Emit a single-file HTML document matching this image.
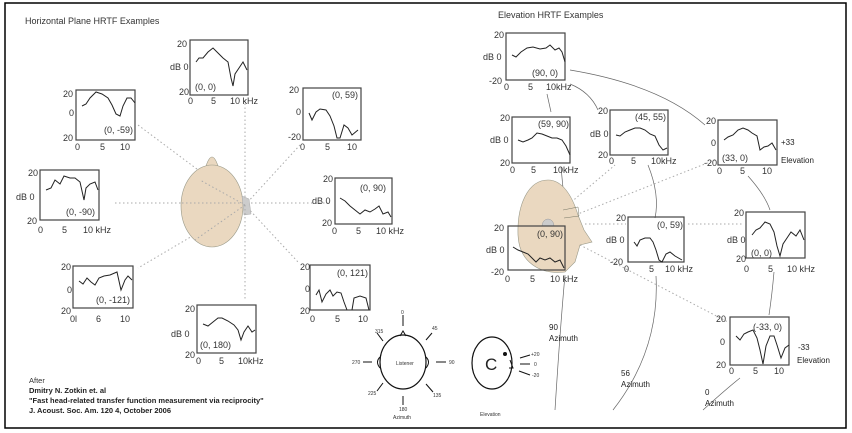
<!DOCTYPE html>
<html><head><meta charset="utf-8"><style>
html,body{margin:0;padding:0;background:#fff;}
svg{display:block;font-family:"Liberation Sans",sans-serif;}
.t{font-size:9px;fill:#333;}
.s{font-size:5px;fill:#333;}
.b{fill:none;stroke:#444;stroke-width:1.2;}
.c{fill:none;stroke:#222;stroke-width:1;}
.d{fill:none;stroke:#aaa;stroke-width:1;stroke-dasharray:1.5 2.5;}
.l{fill:none;stroke:#666;stroke-width:0.7;}
</style></head><body>
<svg width="852" height="433" viewBox="0 0 852 433">
<rect x="5" y="3" width="841" height="425" fill="#fff" stroke="#000" stroke-width="1.5"/>
<text x="25" y="24" class="t">Horizontal Plane  HRTF Examples</text>
<text x="498" y="18" class="t">Elevation HRTF Examples</text>

<g class="d">
<line x1="245" y1="205" x2="245" y2="100"/>
<line x1="245" y1="205" x2="138" y2="125"/>
<line x1="245" y1="205" x2="300" y2="145"/>
<line x1="115" y1="203" x2="330" y2="203"/>
<line x1="245" y1="205" x2="138" y2="268"/>
<line x1="245" y1="205" x2="245" y2="300"/>
<line x1="245" y1="205" x2="298" y2="262"/>
</g>
<path d="M206,166 Q212,148 218,166 Z" fill="#ead8c0" stroke="#998" stroke-width="0.6"/>
<ellipse cx="212" cy="206" rx="31" ry="41" fill="#ead8c0" stroke="#998" stroke-width="0.6"/>
<path d="M242,196 L249,199 L251,214 L244,215 Z" fill="#ccc" stroke="#aaa" stroke-width="0.5"/>
<g class="d"><line x1="182" y1="203" x2="243" y2="203"/><line x1="245" y1="205" x2="200" y2="180"/><line x1="245" y1="205" x2="195" y2="240"/><line x1="245" y1="205" x2="245" y2="247"/></g>

<rect x="190" y="40" width="58" height="55" class="b"/>
<polyline class="c" points="196,62 199,58 203,58 208,52 213,48 218,53 223,58 228,62 231,78 233,86 235,74 239,68 243,62 247,70"/>
<text x="177" y="47" class="t">20</text><text x="170" y="70" class="t">dB 0</text><text x="179" y="95" class="t">20</text>
<text x="195" y="90" class="t">(0, 0)</text>
<text x="188" y="104" class="t">0</text><text x="211" y="104" class="t">5</text><text x="230" y="104" class="t">10 kHz</text>
<rect x="76" y="90" width="59" height="50" class="b"/>
<polyline class="c" points="82,106 86,104 90,98 96,92 102,94 108,98 112,105 116,114 120,116 123,106 127,98 131,98 135,103"/>
<text x="63" y="97" class="t">20</text><text x="69" y="116" class="t">0</text><text x="63" y="141" class="t">20</text>
<text x="104" y="133" class="t">(0, -59)</text>
<text x="75" y="150" class="t">0</text><text x="100" y="150" class="t">5</text><text x="120" y="150" class="t">10</text>
<rect x="303" y="88" width="58" height="52" class="b"/>
<polyline class="c" points="309,113 312,120 316,112 320,109 326,110 330,116 334,126 337,138 340,138 344,125 348,128 352,135 358,130"/>
<text x="289" y="93" class="t">20</text><text x="296" y="115" class="t">0</text><text x="288" y="140" class="t">-20</text>
<text x="332" y="98" class="t">(0, 59)</text>
<text x="300" y="150" class="t">0</text><text x="325" y="150" class="t">5</text><text x="347" y="150" class="t">10</text>
<rect x="40" y="170" width="59" height="50" class="b"/>
<polyline class="c" points="46,190 51,188 55,180 60,184 64,176 70,178 75,178 80,182 84,200 86,188 90,184 95,182 98,190"/>
<text x="28" y="176" class="t">20</text><text x="16" y="200" class="t">dB 0</text><text x="27" y="224" class="t">20</text>
<text x="66" y="215" class="t">(0, -90)</text>
<text x="38" y="233" class="t">0</text><text x="62" y="233" class="t">5</text><text x="83" y="233" class="t">10 kHz</text>
<rect x="335" y="178" width="57" height="46" class="b"/>
<polyline class="c" points="340,198 345,201 350,206 355,210 360,214 365,210 370,212 375,209 379,206 383,214 388,212 391,217"/>
<text x="323" y="182" class="t">20</text><text x="312" y="204" class="t">dB 0</text><text x="322" y="226" class="t">20</text>
<text x="360" y="191" class="t">(0, 90)</text>
<text x="332" y="234" class="t">0</text><text x="356" y="234" class="t">5</text><text x="376" y="234" class="t">10 kHz</text>
<rect x="73" y="266" width="60" height="42" class="b"/>
<polyline class="c" points="79,281 83,284 87,278 91,282 95,285 99,278 104,276 110,275 117,272 121,290 125,280 128,276 132,280"/>
<text x="61" y="270" class="t">20</text><text x="67" y="293" class="t">0</text><text x="61" y="314" class="t">20</text>
<text x="96" y="303" class="t">(0, -121)</text>
<text x="70" y="322" class="t">0l</text><text x="96" y="322" class="t">6</text><text x="120" y="322" class="t">10</text>
<rect x="197" y="305" width="59" height="48" class="b"/>
<polyline class="c" points="203,324 208,326 213,322 218,318 222,318 228,321 234,325 238,330 241,340 244,332 248,326 252,332 255,330"/>
<text x="185" y="312" class="t">20</text><text x="171" y="337" class="t">dB 0</text><text x="185" y="358" class="t">20</text>
<text x="200" y="348" class="t">(0, 180)</text>
<text x="196" y="364" class="t">0</text><text x="219" y="364" class="t">5</text><text x="238" y="364" class="t">10kHz</text>
<rect x="310" y="265" width="60" height="45" class="b"/>
<polyline class="c" points="316,295 319,290 322,302 326,294 330,290 333,296 337,292 341,293 344,302 347,310"/>
<polyline class="c" points="352,310 354,298 360,296 366,298 369,310"/>
<text x="300" y="270" class="t">20</text><text x="305" y="292" class="t">0</text><text x="300" y="314" class="t">20</text>
<text x="337" y="276" class="t">(0, 121)</text>
<text x="310" y="322" class="t">0</text><text x="335" y="322" class="t">5</text><text x="358" y="322" class="t">10</text>

<text x="29" y="383" style="font-size:7.5px;fill:#333">After</text>
<g style="font-size:7.5px;font-weight:bold;fill:#222">
<text x="29" y="393">Dmitry N. Zotkin et. al</text>
<text x="29" y="403">"Fast head-related transfer function measurement via reciprocity"</text>
<text x="29" y="413">J. Acoust. Soc. Am. 120 4, October 2006</text>
</g>

<g stroke="#111" stroke-width="1" fill="none">
<ellipse cx="403" cy="362" rx="23" ry="27" stroke-width="1.2"/>
<path d="M400,336 L403,331 L406,336"/>
<path d="M380,357 Q375,362 380,368"/><path d="M426,357 Q431,362 426,368"/>
<line x1="403" y1="315" x2="403" y2="326"/>
<line x1="403" y1="396" x2="403" y2="405"/>
<line x1="363" y1="362" x2="372" y2="362"/>
<line x1="436" y1="362" x2="446" y2="362"/>
<line x1="377" y1="333" x2="383" y2="341"/>
<line x1="426" y1="340" x2="432" y2="333"/>
<line x1="377" y1="391" x2="383" y2="383"/>
<line x1="426" y1="384" x2="433" y2="392"/>
<ellipse cx="492" cy="363" rx="20" ry="26" stroke-width="1.2"/>
<path d="M510,360 L513,368 L509,368"/>
<line x1="520" y1="358" x2="530" y2="355"/>
<line x1="520" y1="364" x2="530" y2="364"/>
<line x1="519" y1="371" x2="530" y2="375"/>
</g>
<circle cx="505" cy="354" r="2" fill="#111"/>
<text x="485" y="370" style="font-size:17px;fill:#222">C</text>
<text x="396" y="365" class="s">Listener</text>
<text x="401" y="314" class="s">0</text><text x="375" y="333" class="s">315</text><text x="432" y="330" class="s">45</text>
<text x="352" y="364" class="s">270</text><text x="449" y="364" class="s">90</text>
<text x="368" y="395" class="s">225</text><text x="433" y="397" class="s">135</text>
<text x="399" y="411" class="s">180</text><text x="393" y="419" class="s">Azimuth</text>
<text x="531" y="356" class="s">+20</text><text x="534" y="366" class="s">0</text><text x="532" y="377" class="s">-20</text>
<text x="480" y="416" class="s">Elevation</text>

<g class="d">
<line x1="550" y1="220" x2="615" y2="165"/>
<line x1="550" y1="225" x2="715" y2="160"/>
<line x1="585" y1="224" x2="626" y2="224"/>
<line x1="688" y1="224" x2="744" y2="224"/>
<line x1="580" y1="245" x2="728" y2="322"/>
<line x1="547" y1="180" x2="547" y2="240"/>
</g>
<g class="l">
<path d="M570,70 Q660,85 705,125"/>
<path d="M570,84 Q590,92 598,110"/>
<path d="M547,94 L551,112"/>
<path d="M561,167 L567,230"/>
<path d="M565,275 Q560,330 555,410"/>
<path d="M656,276 Q660,350 613,410"/>
<path d="M703,410 Q725,390 740,378"/>
<path d="M748,176 Q765,195 770,210"/>
<path d="M774,272 Q772,295 769,315"/>
<path d="M648,165 Q660,195 655,218"/>
</g>
<path d="M548,180 C528,180 517,205 518,235 C519,262 540,275 565,272 L575,262 L580,245 L592,242 L584,230 L578,215 C572,195 562,180 548,180 Z" fill="#ead8c0" stroke="#998" stroke-width="0.6"/>
<path d="M542,226 A6,7 0 0 1 554,226 Z" fill="#ccc" stroke="#999" stroke-width="0.5"/>
<path d="M563,210 L578,207 L579,216 L564,218" fill="none" stroke="#776" stroke-width="0.5"/>

<rect x="506" y="33" width="59" height="47" class="b"/>
<polyline class="c" points="512,55 516,57 521,52 527,48 533,47 540,49 546,48 550,45 555,50 559,48 562,52 565,62"/>
<text x="494" y="38" class="t">20</text><text x="483" y="60" class="t">dB 0</text><text x="489" y="84" class="t">-20</text>
<text x="532" y="76" class="t">(90, 0)</text>
<text x="504" y="90" class="t">0</text><text x="528" y="90" class="t">5</text><text x="546" y="90" class="t">10kHz</text>
<rect x="512" y="117" width="58" height="46" class="b"/>
<polyline class="c" points="518,140 523,142 528,140 532,138 537,133 542,134 547,136 552,138 557,138 562,140 566,146 570,155"/>
<text x="500" y="121" class="t">20</text><text x="490" y="143" class="t">dB 0</text><text x="500" y="166" class="t">20</text>
<text x="538" y="127" class="t">(59, 90)</text>
<text x="510" y="173" class="t">0</text><text x="531" y="173" class="t">5</text><text x="553" y="173" class="t">10kHz</text>
<rect x="610" y="110" width="58" height="45" class="b"/>
<polyline class="c" points="616,135 620,136 625,132 630,130 635,128 640,128 645,130 650,134 655,136 659,145 663,150 667,148"/>
<text x="598" y="114" class="t">20</text><text x="590" y="137" class="t">dB 0</text><text x="598" y="158" class="t">20</text>
<text x="635" y="120" class="t">(45, 55)</text>
<text x="609" y="164" class="t">0</text><text x="631" y="164" class="t">5</text><text x="651" y="164" class="t">10kHz</text>
<rect x="718" y="120" width="59" height="45" class="b"/>
<polyline class="c" points="724,140 728,137 733,135 738,130 743,128 748,130 752,133 757,136 760,150 764,147 768,146 772,143 776,150"/>
<text x="706" y="124" class="t">20</text><text x="711" y="146" class="t">0</text><text x="704" y="166" class="t">-20</text>
<text x="722" y="161" class="t">(33, 0)</text>
<text x="717" y="174" class="t">0</text><text x="740" y="174" class="t">5</text><text x="762" y="174" class="t">10</text>
<text x="781" y="145" style="font-size:8px;fill:#222">+33</text><text x="781" y="163" style="font-size:8px;fill:#222">Elevation</text>
<rect x="508" y="226" width="57" height="44" class="b"/>
<polyline class="c" points="513,247 518,250 523,252 528,254 532,258 536,262 540,258 545,260 550,258 555,262 560,260 564,268"/>
<text x="494" y="231" class="t">20</text><text x="486" y="253" class="t">dB 0</text><text x="491" y="275" class="t">-20</text>
<text x="537" y="237" class="t">(0, 90)</text>
<text x="505" y="282" class="t">0</text><text x="530" y="282" class="t">5</text><text x="550" y="282" class="t">10 kHz</text>
<rect x="628" y="217" width="56" height="45" class="b"/>
<polyline class="c" points="634,242 637,246 640,240 645,238 650,238 653,242 656,250 659,260 662,262 666,254 670,252 675,256 682,260"/>
<text x="616" y="221" class="t">20</text><text x="606" y="243" class="t">dB 0</text><text x="610" y="265" class="t">-20</text>
<text x="657" y="228" class="t">(0, 59)</text>
<text x="624" y="272" class="t">0</text><text x="649" y="272" class="t">5</text><text x="665" y="272" class="t">10 kHz</text>
<rect x="746" y="212" width="59" height="46" class="b"/>
<polyline class="c" points="752,235 756,230 760,228 765,222 770,224 774,232 777,246 780,256 783,244 787,238 791,232 796,236 800,230 804,240"/>
<text x="734" y="216" class="t">20</text><text x="727" y="243" class="t">dB 0</text><text x="736" y="262" class="t">20</text>
<text x="751" y="256" class="t">(0, 0)</text>
<text x="744" y="272" class="t">0</text><text x="768" y="272" class="t">5</text><text x="787" y="272" class="t">10 kHz</text>
<rect x="730" y="317" width="59" height="48" class="b"/>
<polyline class="c" points="736,336 740,340 744,334 748,332 753,330 757,338 760,350 763,364 766,346 770,336 774,336 777,345 781,358 785,348 789,345"/>
<text x="716" y="322" class="t">20</text><text x="720" y="345" class="t">0</text><text x="716" y="368" class="t">20</text>
<text x="753" y="330" class="t">(-33, 0)</text>
<text x="729" y="374" class="t">0</text><text x="753" y="374" class="t">5</text><text x="774" y="374" class="t">10</text>
<text x="798" y="350" style="font-size:8px;fill:#222">-33</text><text x="797" y="363" style="font-size:8px;fill:#222">Elevation</text>

<g style="font-size:8px;fill:#222">
<text x="549" y="330">90</text><text x="549" y="341">Azimuth</text>
<text x="621" y="376">56</text><text x="621" y="387">Azimuth</text>
<text x="705" y="395">0</text><text x="705" y="406">Azimuth</text>
</g>
</svg>
</body></html>
